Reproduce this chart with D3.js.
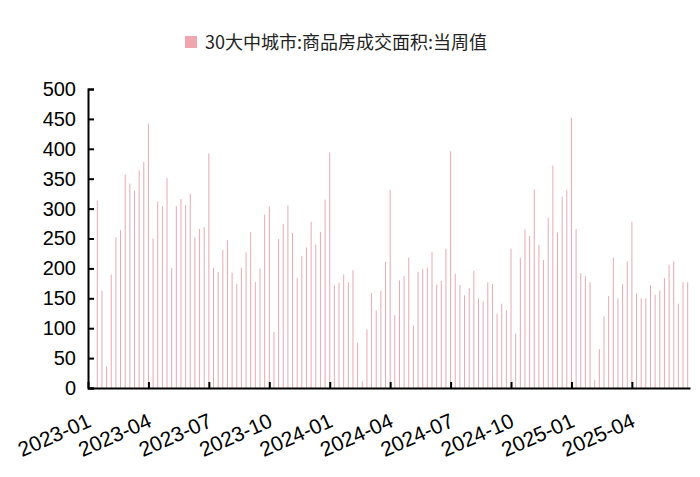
<!DOCTYPE html>
<html><head><meta charset="utf-8">
<script src="https://cdn.jsdelivr.net/npm/d3@7"></script>
<style>body{margin:0;background:#fff}</style>
</head><body>
<svg id="chart" width="700" height="477"></svg>
<script>
// weekly values, 2023-01 .. 2025-07
const values = [
  313, 163, 36, 190, 252, 264, 357, 342, 330, 364, 378, 442, 250, 312, 304, 351,
  201, 304, 316, 306, 325, 252, 266, 269, 392, 201, 194, 231, 247, 193, 174, 201,
  227, 261, 177, 200, 290, 304, 94, 249, 274, 305, 259, 184, 221, 235, 278, 240,
  261, 315, 394, 172, 176, 190, 177, 197, 76, 11, 98, 159, 130, 163, 211, 331,
  122, 180, 187, 218, 105, 194, 199, 201, 227, 173, 179, 233, 396, 191, 172, 155,
  167, 196, 150, 145, 177, 174, 124, 141, 130, 233, 91, 218, 265, 254, 332, 239,
  214, 285, 372, 260, 320, 331, 452, 266, 192, 187, 177, 13, 65, 120, 154, 218,
  150, 174, 212, 278, 158, 150, 150, 172, 156, 163, 184, 206, 212, 141, 177, 177
];
const tickLabels = ["2023-01", "2023-04", "2023-07", "2023-10", "2024-01", "2024-04",
  "2024-07", "2024-10", "2025-01", "2025-04"];
const tickIndex = tickLabels.map((d, i) => -2 + 13 * i);
const yTicks = [0, 50, 100, 150, 200, 250, 300, 350, 400, 450, 500];
const seriesName = "30大中城市:商品房成交面积:当周值";

const svg = d3.select("#chart");
const font = "Liberation Sans, Arial, sans-serif";

const x = d3.scaleLinear().domain([-2, 127.5]).range([88, 690]);
const y = d3.scaleLinear().domain([0, 500]).range([388, 89]);

// bars
svg.append("g").selectAll("line")
  .data(values)
  .enter().append("line")
  .attr("x1", (d, i) => x(i))
  .attr("x2", (d, i) => x(i))
  .attr("y1", y(0))
  .attr("y2", d => y(d))
  .attr("stroke", "#e6aab2")
  .attr("stroke-width", 1);

// y axis
const yAxis = svg.append("g")
  .attr("transform", "translate(88,0)")
  .call(d3.axisLeft(y).tickValues(yTicks).tickSize(-6).tickPadding(12));
yAxis.select(".domain").attr("stroke", "#000").attr("stroke-width", 2);
yAxis.selectAll(".tick line").attr("stroke", "#000").attr("stroke-width", 2);
yAxis.selectAll("text").attr("font-family", font).attr("font-size", 20).attr("fill", "#000");

// x axis
const xAxis = svg.append("g")
  .attr("transform", "translate(0,388)")
  .call(d3.axisBottom(x).tickValues(tickIndex).tickFormat((d, i) => tickLabels[i]).tickSize(-6).tickSizeOuter(0));
xAxis.select(".domain").attr("stroke", "#000").attr("stroke-width", 2);
xAxis.selectAll(".tick line").attr("stroke", "#000").attr("stroke-width", 2);
xAxis.selectAll("text")
  .attr("font-family", font).attr("font-size", 21).attr("fill", "#000")
  .attr("text-anchor", "end")
  .attr("y", 0).attr("dy", 0)
  .attr("transform", "translate(4,38) rotate(-24)");

// legend
svg.append("rect")
  .attr("x", 185).attr("y", 36).attr("width", 12).attr("height", 12)
  .attr("fill", "#f0a6ae");
svg.append("text")
  .text(seriesName)
  .attr("x", 205).attr("y", 49)
  .attr("font-family", "Noto Sans CJK SC, sans-serif")
  .attr("font-size", 18)
  .attr("fill", "#222");
</script>
</body></html>
